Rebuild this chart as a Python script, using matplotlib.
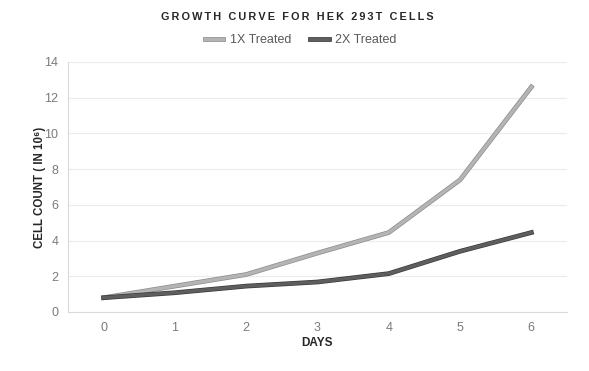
import matplotlib
matplotlib.use('Agg')
import matplotlib.pyplot as plt
import matplotlib.patheffects as pe

days = [0, 1, 2, 3, 4, 5, 6]
treated_1x = [0.8, 1.45, 2.1, 3.3, 4.45, 7.4, 12.6]
treated_2x = [0.8, 1.08, 1.45, 1.68, 2.15, 3.4, 4.45]

title = 'GROWTH CURVE FOR HEK 293T CELLS'

plt.rcParams['font.family'] = ['Liberation Sans', 'DejaVu Sans']

fig = plt.figure(figsize=(5.89, 3.71), dpi=100)
ax = fig.add_axes([68 / 589, (371 - 312) / 371, (567 - 68) / 589, 250 / 371])

ax.plot(days, treated_1x, color='#b4b4b4', lw=2.4, label='1X Treated',
        path_effects=[pe.Stroke(linewidth=3.4, foreground='#8c8c8c'), pe.Normal()])
ax.plot(days, treated_2x, color='#5e5e5e', lw=2.4, label='2X Treated',
        path_effects=[pe.Stroke(linewidth=3.4, foreground='#3a3a3a'), pe.Normal()])

ax.set_xlim(-0.5, 6.5)
ax.set_ylim(0, 14)
ax.set_xticks(days)
ax.set_yticks(range(0, 15, 2))
ax.tick_params(length=0, labelsize=9, colors='#7a7a7a', pad=7)
ax.grid(axis='y', color='#ececec', lw=0.8)
ax.set_axisbelow(True)
for s in ['top', 'right']:
    ax.spines[s].set_visible(False)
for s in ['left', 'bottom']:
    ax.spines[s].set_color('#d9d9d9')

ax.set_xlabel('DAYS', fontsize=8.5, fontweight='bold', color='#262626', labelpad=2)
ax.set_ylabel('CELL COUNT ( IN 10\u2076)', fontsize=8.3, fontweight='bold', color='#262626', labelpad=-1)

# spaced-out title letters
spaced = '\u2009'.join(title)
fig.text(0.505, 0.953, spaced, ha='center', va='center',
         fontsize=7.8, fontweight='bold', color='#262626')
fig.legend(loc='center', bbox_to_anchor=(0.51, 0.892), ncol=2, frameon=False,
           fontsize=9, handlelength=1.5, handletextpad=0.5, columnspacing=1.5,
           labelcolor='#595959')

fig.savefig('out.png', dpi=100)
